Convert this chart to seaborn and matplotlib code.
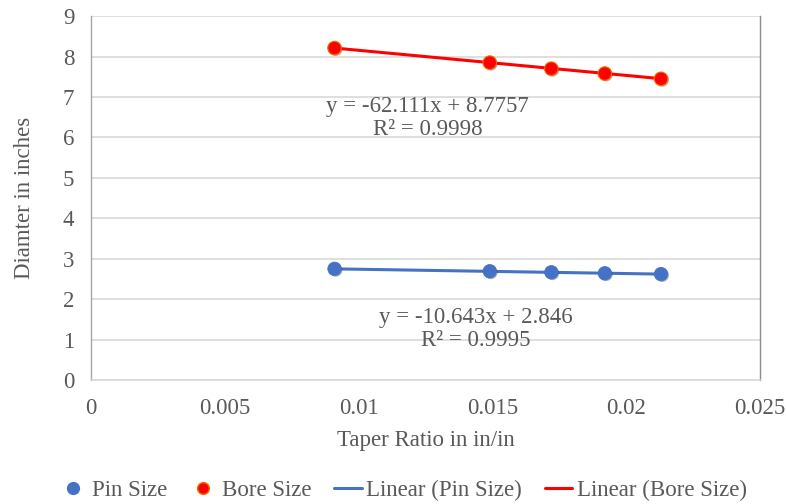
import numpy as np
import pandas as pd
import matplotlib
matplotlib.use("Agg")
import matplotlib.pyplot as plt
import matplotlib.patheffects as pe
from matplotlib.lines import Line2D
import seaborn as sns

# Measured taper ratios and the resulting diameters
taper_ratio = [0.0091, 0.0149, 0.0172, 0.0192, 0.0213]
pin_size = [2.75, 2.69, 2.665, 2.64, 2.62]
bore_size = [8.21, 7.85, 7.70, 7.58, 7.45]

# Linear trend line coefficients (slope, intercept, R^2)
pin_fit = (-10.643, 2.846, 0.9995)
bore_fit = (-62.111, 8.7757, 0.9998)

x_ticks = [0, 0.005, 0.01, 0.015, 0.02, 0.025]
x_tick_labels = ["0", "0.005", "0.01", "0.015", "0.02", "0.025"]
y_ticks = list(range(0, 10))

sns.set_theme(style="white")
plt.rcParams["font.family"] = ["Liberation Serif", "DejaVu Serif"]

TEXT = "#595959"
BLUE = "#4472C4"
RED = "#FF0000"
FS = 16.5

fig = plt.figure(figsize=(7.86, 5.04), dpi=100)
ax = fig.add_axes([0.1158, 0.246, 0.8512, 0.722])

df = pd.DataFrame({"x": taper_ratio, "pin": pin_size, "bore": bore_size})

# Trend lines over the measured range
x_line = np.array([min(taper_ratio), max(taper_ratio)])
trend = pd.DataFrame({
    "x": x_line,
    "pin": pin_fit[0] * x_line + pin_fit[1],
    "bore": bore_fit[0] * x_line + bore_fit[1],
})
sns.lineplot(data=trend, x="x", y="pin", ax=ax, color=BLUE, lw=2.2, zorder=3)
sns.lineplot(data=trend, x="x", y="bore", ax=ax, color=RED, lw=2.2, zorder=3)

shadow = [pe.SimplePatchShadow(offset=(0.8, -0.8), alpha=0.35), pe.Normal()]
sns.scatterplot(data=df, x="x", y="pin", ax=ax, color=BLUE, s=95,
                edgecolor=BLUE, linewidth=0.5, zorder=4, path_effects=shadow)
sns.scatterplot(data=df, x="x", y="bore", ax=ax, color=RED, s=95,
                edgecolor="#F07000", linewidth=0.8, zorder=4, path_effects=shadow)

ax.set_xlim(0, 0.025)
ax.set_ylim(0, 9)
ax.set_xticks(x_ticks)
ax.set_xticklabels(x_tick_labels)
ax.set_yticks(y_ticks)
ax.yaxis.grid(True, color="#D9D9D9", lw=1.2)
ax.xaxis.grid(False)
ax.tick_params(axis="both", labelsize=FS, colors=TEXT, length=0)
ax.tick_params(axis="x", pad=13)
ax.tick_params(axis="y", pad=12)

ax.spines["top"].set_visible(False)
ax.spines["bottom"].set_color("#D9D9D9")
ax.spines["bottom"].set_linewidth(1.2)
ax.spines["left"].set_color("#A6A6A6")
ax.spines["left"].set_linewidth(1.0)
ax.spines["right"].set_color("#8C8C8C")
ax.spines["right"].set_linewidth(1.0)

ax.set_xlabel("Taper Ratio in in/in", fontsize=FS, color=TEXT, labelpad=8)
ax.set_ylabel("Diamter in inches", fontsize=FS, color=TEXT, labelpad=20)

ax.text(0.01257, 6.48,
        f"y = {bore_fit[0]}x + {bore_fit[1]}\nR² = {bore_fit[2]}",
        ha="center", va="center", fontsize=FS, color=TEXT, linespacing=1.12)
ax.text(0.01436, 1.26,
        f"y = {pin_fit[0]}x + {pin_fit[1]}\nR² = {pin_fit[2]}",
        ha="center", va="center", fontsize=FS, color=TEXT, linespacing=1.12)

handles = [
    Line2D([], [], ls="", marker="o", ms=8.5, color=BLUE, mec=BLUE),
    Line2D([], [], ls="", marker="o", ms=8.5, color=RED, mec="#F07000"),
    Line2D([], [], color=BLUE, lw=2.2),
    Line2D([], [], color=RED, lw=2.2),
]
labels = ["Pin Size", "Bore Size", "Linear (Pin Size)", "Linear (Bore Size)"]
leg = fig.legend(handles, labels, loc="center", bbox_to_anchor=(0.513, 0.027),
                 ncol=4, frameon=False, fontsize=16.5, handlelength=1.2,
                 handletextpad=0.2, columnspacing=1.0, labelcolor=TEXT)

fig.savefig("out.png", dpi=100)
